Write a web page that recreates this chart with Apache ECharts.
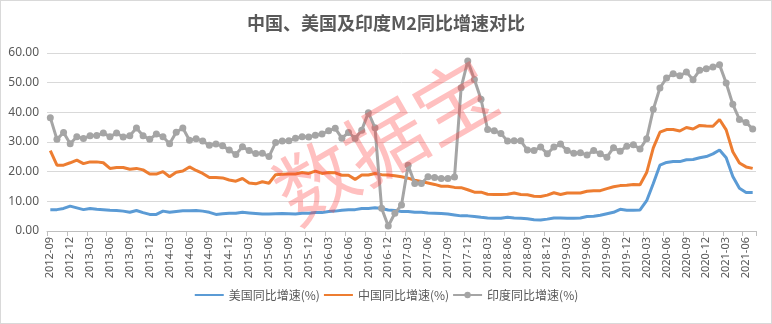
<!DOCTYPE html>
<html>
<head>
<meta charset="utf-8">
<script src="https://cdn.jsdelivr.net/npm/echarts@6/dist/echarts.min.js"></script>
<style>
html,body{margin:0;padding:0;background:#fff;}
#c{width:772px;height:324px;box-sizing:border-box;border:1px solid #D9D9D9;}
</style>
</head>
<body>
<div id="c"></div>
<script>
var titleText = '中国、美国及印度M2同比增速对比';
var seriesNames = ['美国同比增速(%)', '中国同比增速(%)', '印度同比增速(%)'];
var yTicks = [0, 10, 20, 30, 40, 50, 60];

var months = [
'2012-09','2012-10','2012-11','2012-12','2013-01','2013-02','2013-03','2013-04','2013-05','2013-06','2013-07','2013-08',
'2013-09','2013-10','2013-11','2013-12','2014-01','2014-02','2014-03','2014-04','2014-05','2014-06','2014-07','2014-08',
'2014-09','2014-10','2014-11','2014-12','2015-01','2015-02','2015-03','2015-04','2015-05','2015-06','2015-07','2015-08',
'2015-09','2015-10','2015-11','2015-12','2016-01','2016-02','2016-03','2016-04','2016-05','2016-06','2016-07','2016-08',
'2016-09','2016-10','2016-11','2016-12','2017-01','2017-02','2017-03','2017-04','2017-05','2017-06','2017-07','2017-08',
'2017-09','2017-10','2017-11','2017-12','2018-01','2018-02','2018-03','2018-04','2018-05','2018-06','2018-07','2018-08',
'2018-09','2018-10','2018-11','2018-12','2019-01','2019-02','2019-03','2019-04','2019-05','2019-06','2019-07','2019-08',
'2019-09','2019-10','2019-11','2019-12','2020-01','2020-02','2020-03','2020-04','2020-05','2020-06','2020-07','2020-08',
'2020-09','2020-10','2020-11','2020-12','2021-01','2021-02','2021-03','2021-04','2021-05','2021-06','2021-07'
];

var usM2 = [
7.2,7.2,7.6,8.4,7.8,7.2,7.6,7.3,7.2,7.0,6.9,6.7,
6.3,6.9,6.2,5.6,5.6,6.7,6.3,6.6,6.8,6.8,6.9,6.7,
6.3,5.6,5.8,6.0,6.0,6.3,6.1,5.9,5.7,5.7,5.8,5.9,
5.8,5.7,6.0,6.0,6.2,6.2,6.6,6.7,7.0,7.2,7.2,7.6,
7.6,7.8,7.6,7.1,6.9,6.6,6.6,6.3,6.3,6.1,6.0,5.9,
5.7,5.4,5.1,5.1,4.9,4.6,4.4,4.3,4.3,4.6,4.4,4.3,
4.1,3.8,3.7,4.0,4.4,4.4,4.3,4.3,4.4,4.9,5.0,5.3,
5.8,6.3,7.3,7.0,7.0,7.1,10.2,16.0,22.2,23.1,23.4,23.4,
24.0,24.1,24.7,25.1,26.0,27.3,24.7,18.4,14.4,13.0,13.0
];

var chinaM2 = [
27.1,22.2,22.2,23.0,23.9,22.7,23.3,23.3,23.0,21.1,21.4,21.4,
20.8,21.1,20.6,19.2,19.2,20.0,18.3,19.8,20.2,21.6,20.4,19.4,
18.0,18.0,17.9,17.2,16.8,17.7,16.2,15.9,16.6,16.1,19.0,19.1,
19.2,19.2,19.7,19.4,20.2,19.4,19.7,19.6,18.8,18.8,17.4,18.9,
18.9,19.4,19.0,18.9,18.6,18.3,17.8,17.1,16.7,16.2,15.7,15.1,
15.1,14.7,14.6,13.9,13.1,13.1,12.4,12.3,12.3,12.4,12.8,12.3,
12.2,11.7,11.6,12.1,12.9,12.3,12.8,12.8,12.8,13.4,13.6,13.6,
14.3,14.9,15.3,15.4,15.7,15.6,19.7,28.0,33.3,34.2,34.2,33.7,
34.9,34.4,35.6,35.4,35.3,37.6,34.1,26.7,22.9,21.6,21.1
];

var indiaM2 = [
38.2,30.9,33.2,29.4,31.8,31.2,32.1,32.2,33.0,31.8,33.0,31.7,
32.1,34.7,32.1,30.9,32.7,31.8,29.4,33.3,34.7,30.6,31.1,30.3,
28.9,29.3,28.7,27.3,25.8,28.4,27.1,26.1,26.2,25.1,29.8,30.3,
30.4,31.3,31.8,31.7,32.3,32.7,33.8,34.6,31.3,33.2,31.2,34.0,
39.9,34.8,7.7,1.7,6.0,8.8,22.2,16.0,16.0,18.3,18.0,17.7,
17.7,18.2,48.3,57.3,51.1,44.4,34.2,33.8,32.9,30.3,30.4,30.4,
27.3,27.1,28.3,26.0,28.3,29.3,27.1,26.2,26.4,25.6,27.1,26.0,
24.9,28.1,26.9,28.6,29.1,27.6,31.1,41.0,48.2,51.6,53.0,52.3,
53.6,51.0,54.2,54.7,55.3,56.0,49.9,42.7,37.6,36.6,34.4
];

var colors = ['#5B9BD5', '#ED7D31', '#A5A5A5'];
var textColor = '#595959';
var fontFam = "'Noto Sans', 'Noto Sans CJK SC', sans-serif";

var chart = echarts.init(document.getElementById('c'), null, {renderer: 'canvas'});
var valuesList = [usM2, chinaM2, indiaM2];
var series = valuesList.map(function (vals, i) {
  var isIndia = i === 2;
  return {
    name: seriesNames[i],
    type: 'line',
    data: vals,
    symbol: isIndia ? 'circle' : 'none',
    showSymbol: isIndia,
    showAllSymbol: true,
    symbolSize: 7,
    itemStyle: {color: colors[i]},
    lineStyle: {color: colors[i], width: 3},
    animation: false,
    z: 2 + i
  };
});

chart.setOption({
  animation: false,
  color: colors,
  textStyle: {fontFamily: fontFam},
  title: {
    text: titleText,
    left: 'center',
    top: 8,
    textStyle: {fontSize: 18, fontWeight: 'bold', color: textColor, fontFamily: "'Noto Sans CJK SC', sans-serif"}
  },
  legend: {
    bottom: 17,
    left: 'center',
    itemWidth: 29,
    itemHeight: 8,
    itemGap: 3,
    textStyle: {fontSize: 12, color: textColor, fontFamily: "'Noto Sans CJK SC', sans-serif"},
    data: [
      {name: seriesNames[0], itemStyle: {opacity: 0}},
      {name: seriesNames[1], itemStyle: {opacity: 0}},
      {name: seriesNames[2]}
    ]
  },
  grid: {left: 46, right: 15, top: 52, bottom: 92, containLabel: false},
  xAxis: {
    type: 'category',
    data: months,
    boundaryGap: true,
    axisLine: {lineStyle: {color: '#BFBFBF', width: 1}},
    axisTick: {show: true, interval: 2, length: 5, lineStyle: {color: '#BFBFBF'}},
    axisLabel: {interval: 2, rotate: 90, fontSize: 11, color: textColor, margin: 6, fontFamily: fontFam},
    splitLine: {show: false}
  },
  yAxis: {
    type: 'value',
    min: yTicks[0],
    max: yTicks[yTicks.length - 1],
    interval: 10,
    axisLine: {show: false},
    axisTick: {show: false},
    axisLabel: {fontSize: 12, color: textColor, margin: 8, fontFamily: fontFam,
      formatter: function (v) { return v.toFixed(2); }},
    splitLine: {lineStyle: {color: '#D9D9D9', width: 1}}
  },
  graphic: [{
    type: 'text',
    x: 384,
    y: 140,
    rotation: Math.PI / 6,
    z: 100,
    style: {
      text: '数据宝',
      font: "80px 'Noto Sans CJK SC', sans-serif",
      fill: 'rgba(255,60,60,0.32)',
      align: 'center',
      verticalAlign: 'middle'
    }
  }],
  series: series
});
</script>
</body>
</html>
